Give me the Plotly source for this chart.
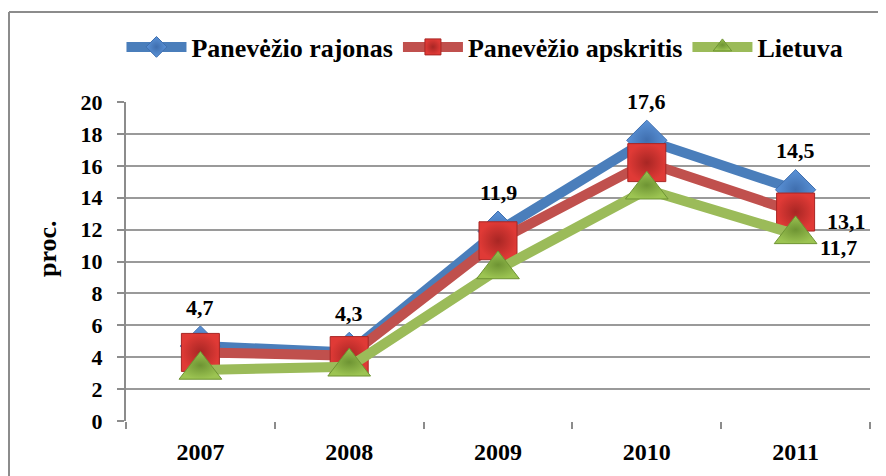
import plotly.graph_objects as go

years = ["2007", "2008", "2009", "2010", "2011"]
rajonas = [4.7, 4.3, 11.9, 17.6, 14.5]
apskritis = [4.3, 4.1, 11.3, 16.2, 13.1]
lietuva = [3.2, 3.4, 9.5, 14.5, 11.7]
series_names = ["Panevėžio rajonas", "Panevėžio apskritis", "Lietuva"]
y_ticks = [0, 2, 4, 6, 8, 10, 12, 14, 16, 18, 20]
y_title = "proc."

# which points carry a data label
rajonas_labels = [True, True, True, True, True]
apskritis_labels = [False, False, False, False, True]
lietuva_labels = [False, False, False, False, True]

FONT = "Liberation Serif"
W, H = 886, 476
OFF = 8  # page body margin
L, R, T, B = 126 - OFF, 24, 102 - OFF, 63
pw, ph = W - L - R, H - T - B

fig = go.Figure()
styles = [
    (rajonas, "#4A7EBB", "#5B93D8", "#3F6EAE", "diamond", 31),
    (apskritis, "#C0504D", "#E03A36", "#A82624", "square", 38),
    (lietuva, "#9BBB59", "#9CC452", "#6E9433", "triangle-up", 37),
]
for name, (vals, lc, mc, gc, sym, sz) in zip(series_names, styles):
    fig.add_trace(go.Scatter(
        x=years, y=vals, name=name, mode="lines+markers",
        line=dict(color=lc, width=10),
        marker=dict(symbol=sym, size=sz, color=mc, line=dict(color=gc, width=1),
                    gradient=dict(type="radial", color=gc)),
    ))

def fmt(v):
    return f"{v:.1f}".replace(".", ",")

xi = {y: i for i, y in enumerate(years)}
anns = []
for yr, v, show in zip(years, rajonas, rajonas_labels):
    if show:
        anns.append(dict(x=xi[yr], y=v, text=fmt(v), showarrow=False, yshift=39))
for yr, v, show in zip(years, apskritis, apskritis_labels):
    if show:
        anns.append(dict(x=xi[yr], y=v, text=fmt(v), showarrow=False, xshift=51, yshift=-9))
for yr, v, show in zip(years, lietuva, lietuva_labels):
    if show:
        anns.append(dict(x=xi[yr], y=v, text=fmt(v), showarrow=False, xshift=43, yshift=-13))
for a in anns:
    a["font"] = dict(family=FONT, size=22, color="black", weight="bold")
    a["xref"] = "x"
    a["yref"] = "y"

# y-axis title
anns.append(dict(xref="paper", yref="paper", x=(47 - OFF - L) / pw, y=1 - (249 - OFF - T) / ph,
                 text=y_title, textangle=-90, showarrow=False, xanchor="center", yanchor="middle",
                 font=dict(family=FONT, size=26, color="black", weight="bold")))

# outer chart border (top and left)
bx = (1 - L) / pw
by = 1 + (T - (12 - OFF)) / ph
shapes = [
    dict(type="line", xref="paper", yref="paper", x0=bx, x1=1 + (R + 5) / pw, y0=by, y1=by,
         line=dict(color="#8C8C8C", width=2)),
    dict(type="line", xref="paper", yref="paper", x0=bx, x1=bx, y0=by, y1=-(B + 5) / ph,
         line=dict(color="#8C8C8C", width=2)),
]

fig.update_layout(
    width=W, height=H,
    margin=dict(l=L, r=R, t=T, b=B, autoexpand=False),
    paper_bgcolor="white", plot_bgcolor="white",
    font=dict(family=FONT, color="black", size=20, weight="bold"),
    showlegend=True,
    legend=dict(orientation="h", x=0.4825, xanchor="center", y=1 + (T - (47 - OFF)) / ph, yanchor="middle",
                font=dict(family=FONT, size=26, color="black", weight="bold"),
                itemwidth=60, bgcolor="rgba(0,0,0,0)"),
    annotations=anns,
    shapes=shapes,
    xaxis=dict(type="category", showgrid=False, tickson="boundaries", ticks="outside",
               ticklen=7, tickcolor="#8C8C8C", tickwidth=2, showline=False, zeroline=False,
               tickfont=dict(family=FONT, size=24, color="black", weight="bold"),
               ticklabelstandoff=14, range=[-0.5, 4.5]),
    yaxis=dict(range=[0, 20], tickvals=y_ticks,
               ticks="outside", ticklen=7, tickcolor="#8C8C8C",
               tickwidth=2, showgrid=True, gridcolor="#9A9A9A", gridwidth=2, showline=True,
               linecolor="#8C8C8C", linewidth=2, zeroline=False, ticklabelstandoff=10,
               tickfont=dict(family=FONT, size=22, color="black", weight="bold")),
)

fig.write_html("out.html")
